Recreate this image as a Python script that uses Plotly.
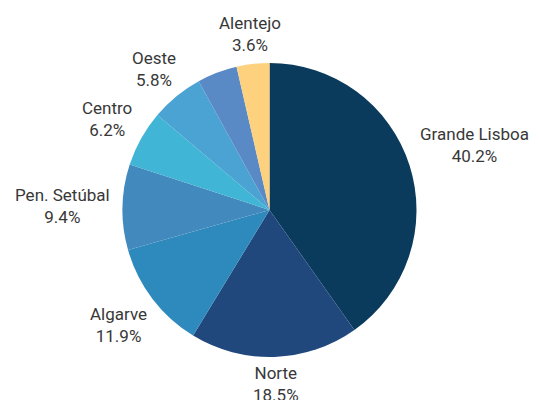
import math
import plotly.graph_objects as go

labels = ["Grande Lisboa", "Norte", "Algarve", "Pen. Setúbal", "Centro", "Oeste", "Outros", "Alentejo"]
values = [40.2, 18.5, 11.9, 9.4, 6.2, 5.8, 4.4, 3.6]
show_label = [True, True, True, True, True, True, False, True]
colors = ["#0b3b5c", "#20487c", "#2e8abd", "#4289bd", "#40b5d5", "#4aa3d3", "#5a8ac6", "#fdd17e"]

W, H = 539, 400
# page body has an 8px margin in the screenshot; place pie accordingly (in figure pixels)
CX, CY, R = 261.5, 202.0, 147.0
FONT_SIZE = 17
LINE_H = 21.0
OFFSET = 5.0

fig = go.Figure(go.Pie(
    labels=labels,
    values=values,
    textinfo="none",
    sort=False,
    direction="clockwise",
    rotation=0,
    marker=dict(colors=colors, line=dict(width=0)),
    showlegend=False,
    hoverinfo="label+percent",
    domain=dict(x=[(CX - R) / W, (CX + R) / W], y=[1 - (CY + R) / H, 1 - (CY - R) / H]),
))

total = sum(values)
cum = 0.0
annotations = []
for lab, val, show in zip(labels, values, show_label):
    mid = (cum + val / 2) / total * 2 * math.pi
    cum += val
    if not show:
        continue
    ux, uy = math.sin(mid), -math.cos(mid)  # uy: screen-down positive
    line1 = lab
    line2 = f"{val / total * 100:.1f}%"
    w = max(len(line1), len(line2)) * 17.5 * 0.52
    h = 2 * LINE_H
    ext = abs(ux) * w / 2 + abs(uy) * h / 2
    d = R + OFFSET + ext
    px = CX + ux * d
    py = CY + uy * d
    annotations.append(dict(
        x=px / W, y=1 - py / H, xref="paper", yref="paper",
        text=f"{line1}<br>{line2}", showarrow=False,
        xanchor="center", yanchor="middle", align="center",
        font=dict(family="Roboto", size=FONT_SIZE, color="#383838"),
    ))

fig.update_layout(
    width=W, height=H,
    margin=dict(l=0, r=0, t=0, b=0),
    paper_bgcolor="white",
    plot_bgcolor="white",
    annotations=annotations,
)
fig.write_html("out.html")
